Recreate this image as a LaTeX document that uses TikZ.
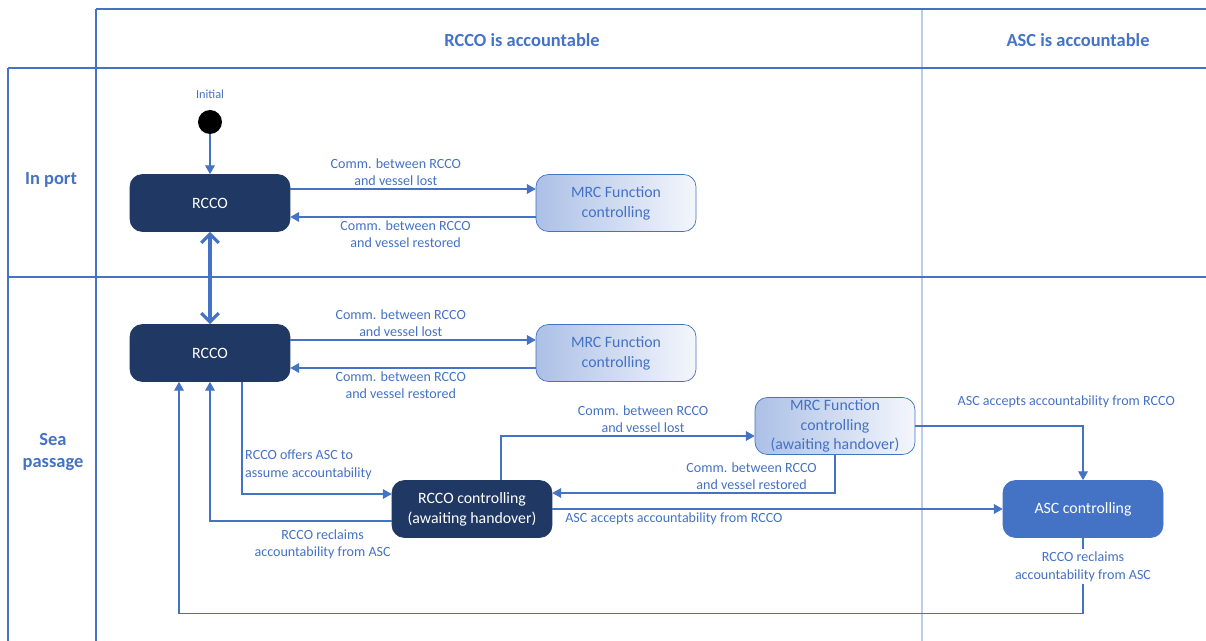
\documentclass[tikz,border=0pt]{standalone}
\usepackage{fontspec}
\setmainfont{Carlito}
\usetikzlibrary{arrows.meta}
\definecolor{lane}{RGB}{68,114,196}
\definecolor{lanelight}{RGB}{190,206,234}
\definecolor{navy}{RGB}{32,56,100}
\definecolor{mrcleft}{RGB}{172,192,230}
\definecolor{mrcright}{RGB}{244,246,252}
\newcommand{\statew}{3.2cm}
\newcommand{\stateh}{1.14cm}

\begin{document}
\begin{tikzpicture}[x=0.02cm, y=-0.02cm,
    statebox/.style={rounded corners=7pt, minimum width=\statew, minimum height=\stateh, align=center, font=\fontsize{9}{11.3}\selectfont, inner sep=1pt},
    darkstate/.style={statebox, fill=navy, draw=navy, text=white},
    mrcstate/.style={statebox, draw=lane, left color=mrcleft, right color=mrcright, text=lane},
    ascstate/.style={statebox, fill=lane, draw=lane, text=white},
    flow/.style={draw=lane, line width=0.7pt, -{Triangle[length=5pt,width=5.5pt]}},
    lbl/.style={text=lane, font=\fontsize{8}{10}\selectfont, align=center, inner sep=1.5pt},
    lanehead/.style={text=lane, font=\fontsize{10.5}{12.5}\selectfont\bfseries, align=center}]
  \useasboundingbox (0,0) rectangle (1206,641);

  % swimlanes
  \draw[lanelight, line width=0.8pt] (922,9) -- (922,641);
  \draw[lane, line width=0.6pt] (96,9) -- (1206,9);
  \draw[lane, line width=0.6pt] (96,9) -- (96,641);
  \draw[lane, line width=0.6pt] (8,68) -- (1206,68);
  \draw[lane, line width=0.6pt] (8,68) -- (8,641);
  \draw[lane, line width=0.6pt] (8,277) -- (1206,277);

  \node (hrcco) at (522,40) [lanehead] {RCCO is accountable};
  \node (hasc) at (1078,40) [lanehead] {ASC is accountable};
  \node (hport) at (51,180) [lanehead] {In port};
  \node (hsea) at (53,452) [lanehead] {Sea\\passage};

  % states
  \node (initlbl) at (210,94) [lbl, font=\fontsize{7}{8}\selectfont] {Initial};
  \node (init) at (210,122) [circle, fill=black, minimum size=0.48cm, inner sep=0pt] {};
  \node (r1) at (210,203) [darkstate] {RCCO};
  \node (m1) at (616,203) [mrcstate] {MRC Function\\controlling};
  \node (r2) at (210,353) [darkstate] {RCCO};
  \node (m2) at (616,353) [mrcstate] {MRC Function\\controlling};
  \node (r3) at (472,509) [darkstate] {RCCO controlling\\(awaiting handover)};
  \node (m3) at (835,426) [mrcstate] {MRC Function\\controlling\\(awaiting handover)};
  \node (asc) at (1083,509) [ascstate] {ASC controlling};

  % transitions
  \draw[flow] (init) -- (r1);
  \draw[flow] ([yshift=0.28cm]r1.east) -- ([yshift=0.28cm]m1.west)
    node[pos=0.43, above, lbl] {Comm. between RCCO\\and vessel lost};
  \draw[flow] ([yshift=-0.28cm]m1.west) -- ([yshift=-0.28cm]r1.east)
    node[pos=0.53, below, lbl] {Comm. between RCCO\\and vessel restored};
  \draw[draw=lane, line width=1.8pt, {Straight Barb[length=5pt,width=10pt]}-{Straight Barb[length=5pt,width=10pt]}] (r1) -- (r2);
  \draw[flow] ([yshift=0.26cm]r2.east) -- ([yshift=0.26cm]m2.west)
    node[pos=0.45, above, lbl] {Comm. between RCCO\\and vessel lost};
  \draw[flow] ([yshift=-0.3cm]m2.west) -- ([yshift=-0.3cm]r2.east)
    node[pos=0.55, below, lbl] {Comm. between RCCO\\and vessel restored};
  \draw[flow] ([xshift=0.64cm]r2.south) |- ([yshift=0.3cm]r3.west)
    node[pos=0.37, right, lbl, align=left] {RCCO offers ASC to\\assume accountability};
  \draw[flow] ([yshift=-0.24cm]r3.west) -| (r2.south)
    node[pos=0.19, below=3pt, lbl] {RCCO reclaims\\accountability from ASC};
  \draw[flow] ([xshift=0.58cm]r3.north) |- ([yshift=-0.2cm]m3.west)
    node[pos=0.78, above, lbl] {Comm. between RCCO\\and vessel lost};
  \draw[flow] (m3.south) |- ([yshift=0.32cm]r3.east)
    node[pos=0.5, above left, lbl, xshift=-0.3cm] {Comm. between RCCO\\and vessel restored};
  \draw[flow] (r3) -- (asc)
    node[pos=0.27, below, lbl] {ASC accepts accountability from RCCO};
  \draw[flow] (m3.east) -| (asc.north)
    node[pos=0.45, above=0.3cm, lbl] {ASC accepts accountability from RCCO};
  \draw[flow] (asc.south) -- ++(0,76)
    node[pos=0.38, lbl, fill=white] {RCCO reclaims\\accountability from ASC}
    -| ([xshift=-0.62cm]r2.south);
\end{tikzpicture}
\end{document}
